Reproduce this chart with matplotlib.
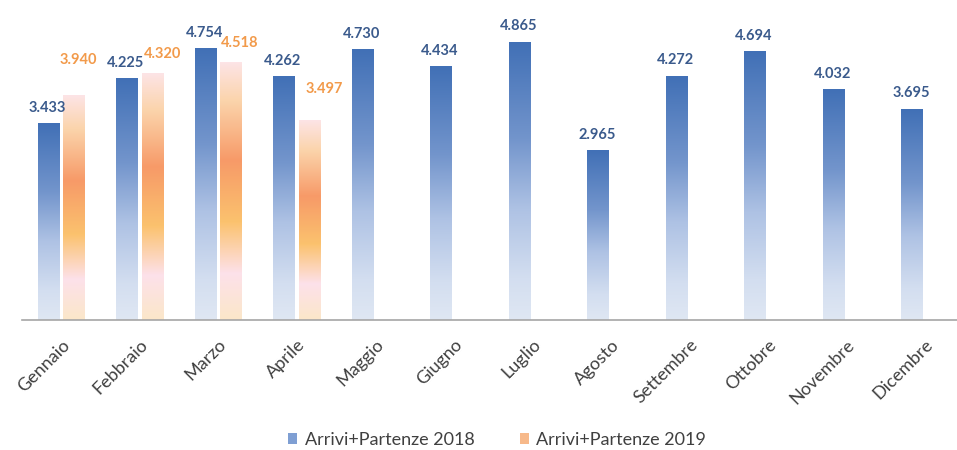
import numpy as np
import matplotlib
matplotlib.use('Agg')
import matplotlib.pyplot as plt
from matplotlib.colors import LinearSegmentedColormap
from matplotlib.patches import Patch

plt.rcParams['font.family'] = ['Lato', 'DejaVu Sans']

# Data
mesi = ['Gennaio', 'Febbraio', 'Marzo', 'Aprile', 'Maggio', 'Giugno',
        'Luglio', 'Agosto', 'Settembre', 'Ottobre', 'Novembre', 'Dicembre']
valori_2018 = [3.433, 4.225, 4.754, 4.262, 4.730, 4.434,
               4.865, 2.965, 4.272, 4.694, 4.032, 3.695]
valori_2019 = [3.940, 4.320, 4.518, 3.497]
nome_2018 = 'Arrivi+Partenze 2018'
nome_2019 = 'Arrivi+Partenze 2019'

# Gradients (top -> bottom)
cmap_2018 = LinearSegmentedColormap.from_list('g2018', [
    (0.0, '#4170b6'), (0.35, '#7395cc'), (0.6, '#aec2e4'),
    (0.85, '#d3def0'), (1.0, '#dfe7f3')])
cmap_2019 = LinearSegmentedColormap.from_list('g2019', [
    (0.0, '#fde4e6'), (0.15, '#fbd4ab'), (0.38, '#f79a68'),
    (0.62, '#fbc26e'), (0.82, '#fde1ea'), (1.0, '#fbe7c9')])
grad = np.linspace(0, 1, 256).reshape(-1, 1)

fig = plt.figure(figsize=(9.57, 4.5), dpi=100)
ax = fig.add_axes([22 / 957, 130 / 450, 1 - 22 / 957, 320 / 450])

x = np.arange(len(mesi))
w = 0.27
off = 0.163

bars18 = ax.bar(x - off, valori_2018, w, color='none', edgecolor='none')
bars19 = ax.bar(x[:len(valori_2019)] + off, valori_2019, w,
                color='none', edgecolor='none')

for bars, cmap in [(bars18, cmap_2018), (bars19, cmap_2019)]:
    for b in bars:
        x0, h = b.get_x(), b.get_height()
        ax.imshow(grad, cmap=cmap, aspect='auto', origin='upper',
                  extent=[x0, x0 + b.get_width(), 0, h], zorder=2,
                  interpolation='bilinear')

# value labels
for b, v in zip(bars18, valori_2018):
    ax.annotate(f'{v:.3f}', (b.get_x() + b.get_width() / 2, v),
                xytext=(-1, 16), textcoords='offset pixels',
                ha='center', va='center', fontsize=10.5, fontweight='bold',
                color='#3a5a8c')
shift_19 = [(4, 35), (10, 19), (9, 19), (15, 31)]
for b, v, (dx, dy) in zip(bars19, valori_2019, shift_19):
    ax.annotate(f'{v:.3f}', (b.get_x() + b.get_width() / 2, v),
                xytext=(dx, dy), textcoords='offset pixels',
                ha='center', va='center', fontsize=10.5, fontweight='bold',
                color='#f29a4a')

ax.set_xlim(-0.5, 11.41)
ax.set_ylim(0, 320 / 57.1)
ax.set_xticks(x)
ax.set_xticklabels(mesi, rotation=45, ha='right', rotation_mode='anchor',
                   fontsize=13, color='#404040')
ax.tick_params(axis='x', length=0, pad=12)
ax.set_yticks([])
for s in ['top', 'right', 'left']:
    ax.spines[s].set_visible(False)
ax.spines['bottom'].set_color('#a6a6a6')
ax.spines['bottom'].set_linewidth(1.2)

handles = [Patch(facecolor='#7f9fd3', label=nome_2018),
           Patch(facecolor='#f7b98a', label=nome_2019)]
fig.legend(handles=handles, loc='center', bbox_to_anchor=(497 / 957, 1 - 440 / 450),
           ncol=2, frameon=False, fontsize=13, handlelength=0.5,
           handleheight=0.5, handletextpad=0.4, columnspacing=2.5,
           labelcolor='#404040')

fig.savefig('out.png', dpi=100)
